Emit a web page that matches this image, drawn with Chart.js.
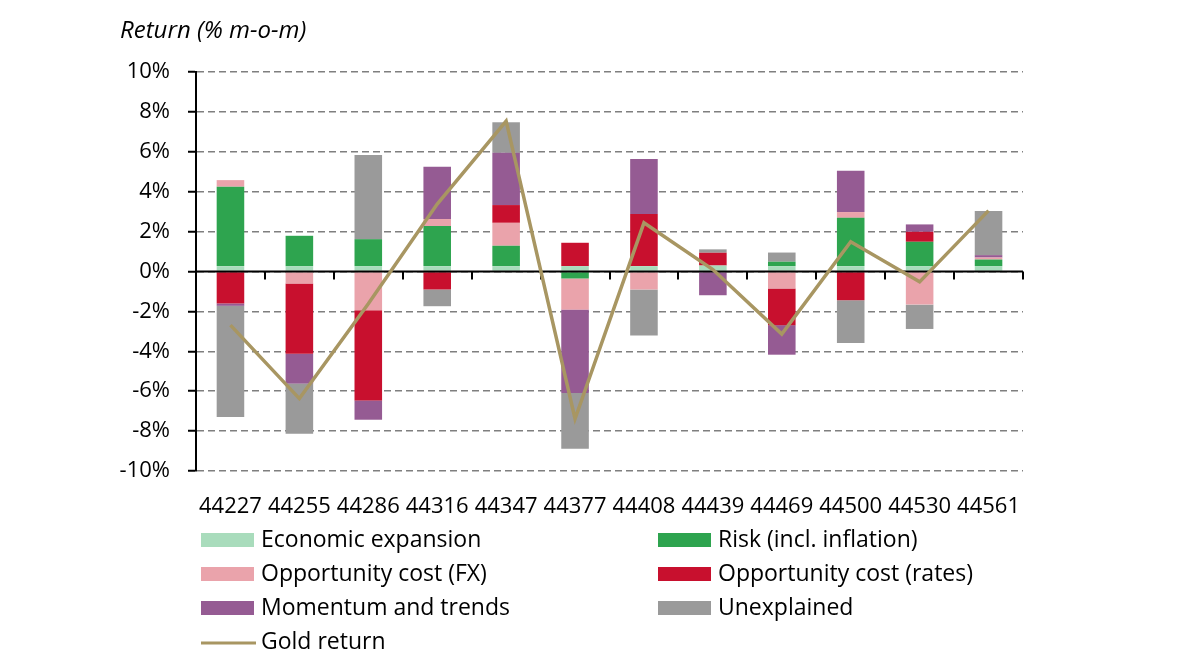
<!DOCTYPE html>
<html>
<head>
<meta charset="utf-8">
<title>Gold return decomposition</title>
<script src="https://cdn.jsdelivr.net/npm/chart.js@4.4.1/dist/chart.umd.min.js"></script>
<style>
  html, body { margin: 0; padding: 0; background: #fff; }
  #wrap { width: 1200px; height: 670px; position: relative; }
</style>
</head>
<body>
<div id="wrap"><canvas id="chart"></canvas></div>
<script>
// ── Daten (Monatsrendite in %, m-o-m) ─────────────────────────
const categories   = ['44227', '44255', '44286', '44316', '44347', '44377', '44408', '44439', '44469', '44500', '44530', '44561'];
const econExp      = [0.27, 0.27, 0.27, 0.27, 0.27, 0.27, 0.27, 0.30, 0.27, 0.27, 0.27, 0.27];
const riskInfl     = [3.98, 1.52, 1.35, 2.01, 1.02, -0.35, 0, 0, 0.22, 2.42, 1.22, 0.33];
const oppFx        = [0.33, -0.60, -1.94, 0.35, 1.15, -1.56, -0.90, 0, -0.85, 0.29, -1.66, 0.10];
const oppRates     = [-1.60, -3.52, -4.52, -0.90, 0.89, 1.17, 2.61, 0.64, -1.84, -1.44, 0.50, 0];
const momentum     = [-0.12, -1.50, -0.97, 2.62, 2.62, -4.18, 2.76, -1.19, -1.48, 2.07, 0.37, 0.12];
const unexplained  = [-5.57, -2.51, 4.22, -0.84, 1.53, -2.79, -2.31, 0.17, 0.46, -2.14, -1.22, 2.21];
const goldReturn   = [-2.69, -6.37, -1.62, 3.38, 7.54, -7.38, 2.44, 0.10, -3.14, 1.49, -0.52, 3.05];
const yTicks       = [-10, -8, -6, -4, -2, 0, 2, 4, 6, 8, 10];

const FONT = "'Open Sans', 'DejaVu Sans', sans-serif";

// Balken-Datensatz bauen
function barSet(label, data, color) {
  return {
    type: 'bar', label, data,
    backgroundColor: color,
    borderWidth: 0,
    stack: 'drivers',
    order: 1,
    categoryPercentage: 0.4,
    barPercentage: 1
  };
}

// ── Nulllinie mit Teilstrichen (unter der Goldlinie) ─────────
const zeroLine = {
  id: 'zeroLine',
  beforeDatasetDraw(chart, args) {
    if (args.meta.type !== 'line') return;
    const { ctx, chartArea: a, scales: { y } } = chart;
    const y0 = y.getPixelForValue(0);
    const n = categories.length;
    ctx.save();
    ctx.strokeStyle = '#000';
    ctx.lineWidth = 2;
    ctx.beginPath();
    ctx.moveTo(a.left, y0);
    ctx.lineTo(a.right, y0);
    for (let i = 1; i <= n; i++) {
      const x = Math.round(a.left + (a.right - a.left) * i / n);
      ctx.moveTo(x, y0);
      ctx.lineTo(x, y0 + 8);
    }
    ctx.stroke();
    ctx.restore();
  }
};

// ── Titel + Legende (zweispaltig) ─────────────────────────────
const titleAndLegend = {
  id: 'titleAndLegend',
  afterDraw(chart) {
    const ctx = chart.ctx;
    ctx.save();
    ctx.fillStyle = '#000';
    ctx.textBaseline = 'middle';
    ctx.font = 'italic 24px ' + FONT;
    ctx.fillText('Return (% m-o-m)', 120, 31);

    ctx.font = '23px ' + FONT;
    const colX = [201, 658];
    const rowY = [540, 574, 608, 642];
    chart.data.datasets.forEach((ds, i) => {
      const x = colX[i % 2];
      const y = rowY[Math.floor(i / 2)];
      if (ds.type === 'line') {
        ctx.strokeStyle = ds.borderColor;
        ctx.lineWidth = 3;
        ctx.beginPath();
        ctx.moveTo(x, y + 1);
        ctx.lineTo(x + 55, y + 1);
        ctx.stroke();
      } else {
        ctx.fillStyle = ds.backgroundColor;
        ctx.fillRect(x, y - 7, 53, 14);
      }
      ctx.fillStyle = '#000';
      ctx.fillText(ds.label, x + 60, y);
    });
    ctx.restore();
  }
};

new Chart(document.getElementById('chart'), {
  data: {
    labels: categories,
    datasets: [
      barSet('Economic expansion', econExp, '#a9dcbc'),
      barSet('Risk (incl. inflation)', riskInfl, '#2ea44f'),
      barSet('Opportunity cost (FX)', oppFx, '#eaa3ab'),
      barSet('Opportunity cost (rates)', oppRates, '#c8102e'),
      barSet('Momentum and trends', momentum, '#955b93'),
      barSet('Unexplained', unexplained, '#9a9a9a'),
      {
        type: 'line',
        label: 'Gold return',
        data: goldReturn,
        borderColor: '#a89662',
        borderWidth: 3.5,
        pointRadius: 0,
        tension: 0,
        fill: false,
        stack: 'gold',
        order: 0
      }
    ]
  },
  options: {
    responsive: true,
    maintainAspectRatio: false,
    animation: false,
    layout: { padding: { top: 72, right: 177, bottom: 0, left: 0 } },
    plugins: {
      legend: { display: false },
      tooltip: { enabled: false },
      title: { display: false }
    },
    scales: {
      x: {
        stacked: true,
        grid: { display: false, drawTicks: false },
        border: { display: false },
        ticks: {
          color: '#000',
          font: { family: FONT, size: 22 },
          padding: 23,
          maxRotation: 0,
          autoSkip: false
        },
        afterFit(scale) { scale.height = 199; }
      },
      y: {
        stacked: true,
        min: -10,
        max: 10,
        afterBuildTicks(scale) { scale.ticks = yTicks.map(v => ({ value: v })); },
        ticks: {
          color: '#000',
          font: { family: FONT, size: 22 },
          padding: 18,
          callback: v => v + '%'
        },
        grid: {
          color: '#7f7f7f',
          lineWidth: 1.5,
          tickColor: '#000',
          tickWidth: 2,
          tickLength: 8
        },
        border: { display: true, color: '#000', width: 2, dash: [7, 4] },
        afterFit(scale) { scale.width = 196; }
      }
    }
  },
  plugins: [zeroLine, titleAndLegend]
});
</script>
</body>
</html>
